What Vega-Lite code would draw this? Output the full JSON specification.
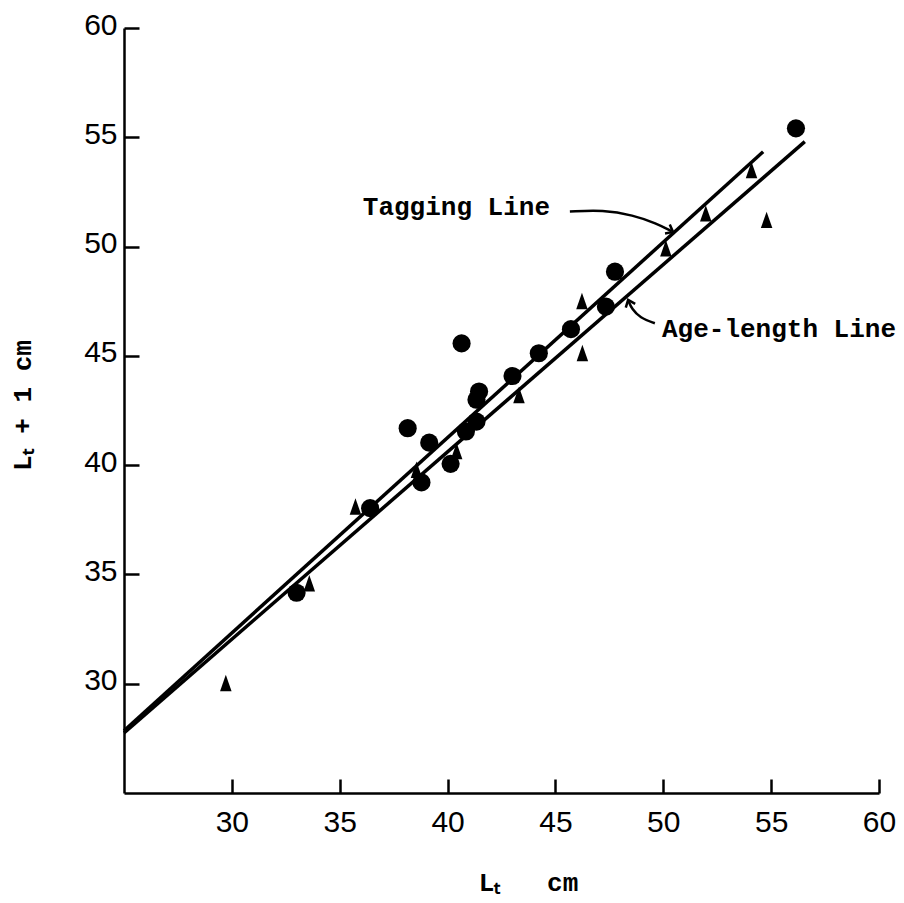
{
  "$schema": "https://vega.github.io/schema/vega-lite/v6.json",
  "width": 755,
  "height": 765,
  "autosize": {"type": "none"},
  "padding": {"left": 124, "top": 28, "right": 25, "bottom": 110},
  "background": "white",
  "config": {
    "view": {"stroke": null},
    "axis": {"grid": false, "domainColor": "black", "domainWidth": 2.5, "tickColor": "black", "tickWidth": 2, "labelColor": "black", "titleColor": "black"}
  },
  "datasets": {
    "lines": [
      {"series": "Tagging Line", "x": 25, "y": 27.85},
      {"series": "Tagging Line", "x": 54.63, "y": 54.34},
      {"series": "Age-length Line", "x": 25, "y": 27.75},
      {"series": "Age-length Line", "x": 56.56, "y": 54.8}
    ],
    "circles": [
      {"x": 33.0, "y": 34.16}, {"x": 36.41, "y": 38.03}, {"x": 38.15, "y": 41.69},
      {"x": 39.15, "y": 41.03}, {"x": 38.79, "y": 39.21}, {"x": 40.14, "y": 40.06},
      {"x": 40.65, "y": 45.57}, {"x": 40.85, "y": 41.54}, {"x": 41.34, "y": 41.99},
      {"x": 41.34, "y": 42.99}, {"x": 41.46, "y": 43.37}, {"x": 43.01, "y": 44.08},
      {"x": 44.23, "y": 45.12}, {"x": 45.72, "y": 46.22}, {"x": 47.34, "y": 47.25},
      {"x": 47.76, "y": 48.85}, {"x": 56.15, "y": 55.41}
    ],
    "triangles": [
      {"x": 29.72, "y": 30.03}, {"x": 33.59, "y": 34.6}, {"x": 35.73, "y": 38.11},
      {"x": 38.56, "y": 39.79}, {"x": 40.42, "y": 40.65}, {"x": 43.31, "y": 43.21},
      {"x": 46.25, "y": 45.13}, {"x": 46.23, "y": 47.51}, {"x": 50.12, "y": 49.92},
      {"x": 51.97, "y": 51.52}, {"x": 54.09, "y": 53.5}, {"x": 54.79, "y": 51.22}
    ],
    "tagArrow": [
      {"x": 45.67, "y": 51.6}, {"x": 47.21, "y": 51.68}, {"x": 48.6, "y": 51.44},
      {"x": 49.69, "y": 51.06}, {"x": 50.38, "y": 50.71}
    ],
    "tagHead": [{"x": 50.45, "y": 50.67}],
    "ageArrow": [
      {"x": 49.61, "y": 46.49}, {"x": 48.92, "y": 46.74}, {"x": 48.54, "y": 47.15}, {"x": 48.39, "y": 47.5}
    ],
    "ageHead": [{"x": 48.37, "y": 47.56}],
    "labels": [
      {"label": "Tagging Line", "x": 36.07, "y": 51.44},
      {"label": "Age-length Line", "x": 49.94, "y": 45.88}
    ]
  },
  "layer": [
    {
      "encoding": {
        "x": {
          "field": "x", "type": "quantitative",
          "scale": {"domain": [25, 60], "nice": false, "zero": false},
          "axis": {
            "orient": "bottom",
            "values": [30, 35, 40, 45, 50, 55, 60], "ticks": false, "labelPadding": 14,
            "labelFont": "Liberation Sans", "labelFontSize": 30, "labelFlush": false, "labelOverlap": false,
            "title": "Lₜ\u00a0\u00a0\u00a0cm", "titleFont": "Liberation Mono", "titleFontSize": 26, "titleFontWeight": "bold",
            "titleX": 404, "titleY": 97, "titleBaseline": "alphabetic", "titleAlign": "center"
          }
        },
        "y": {
          "field": "y", "type": "quantitative",
          "scale": {"domain": [25, 60], "nice": false, "zero": false},
          "axis": {
            "orient": "left",
            "values": [30, 35, 40, 45, 50, 55, 60], "ticks": false, "labelPadding": 7,
            "labelFont": "Liberation Sans", "labelFontSize": 30, "labelFlush": false, "labelOverlap": false,
            "labelOffset": -3,
            "title": "Lₜ + 1 cm", "titleFont": "Liberation Mono", "titleFontSize": 26, "titleFontWeight": "bold",
            "titleX": -102, "titleY": 377, "titleBaseline": "middle", "titleAlign": "center", "titleAngle": -90
          }
        }
      },
      "layer": [
        {
          "data": {"name": "lines"},
          "mark": {"type": "line", "color": "black", "strokeWidth": 3.5},
          "encoding": {"detail": {"field": "series"}}
        },
        {
          "data": {"name": "circles"},
          "mark": {"type": "point", "shape": "circle", "filled": true, "color": "black", "opacity": 1, "size": 330}
        },
        {
          "data": {"name": "triangles"},
          "mark": {"type": "point", "shape": "M0,-1 L0.7,1 L-0.7,1 Z", "filled": true, "color": "black", "opacity": 1, "size": 270}
        },
        {
          "data": {"name": "tagArrow"},
          "mark": {"type": "line", "color": "black", "strokeWidth": 2.5, "interpolate": "basis"},
          "encoding": {}
        },
        {
          "data": {"name": "tagHead"},
          "mark": {"type": "point", "shape": "M-1,-0.8 L0,0 L-1,0.8", "filled": false, "color": "black", "strokeWidth": 2.5, "opacity": 1, "size": 160, "angle": 28}
        },
        {
          "data": {"name": "ageArrow"},
          "mark": {"type": "line", "color": "black", "strokeWidth": 2.5, "interpolate": "basis"},
          "encoding": {}
        },
        {
          "data": {"name": "ageHead"},
          "mark": {"type": "point", "shape": "M-1,-0.8 L0,0 L-1,0.8", "filled": false, "color": "black", "strokeWidth": 2.5, "opacity": 1, "size": 160, "angle": -112}
        },
        {
          "data": {"name": "labels"},
          "mark": {"type": "text", "align": "left", "baseline": "alphabetic", "font": "Liberation Mono", "fontSize": 26, "fontWeight": "bold", "color": "black"},
          "encoding": {"text": {"field": "label"}}
        }
      ]
    },
    {
      "data": {"name": "lines"},
      "mark": {"type": "point", "opacity": 0},
      "encoding": {
        "x": {
          "field": "x", "type": "quantitative",
          "scale": {"domain": [25, 60], "nice": false, "zero": false},
          "axis": {"orient": "bottom", "offset": -14, "values": [30, 35, 40, 45, 50, 55, 60], "domain": false, "labels": false, "ticks": true, "tickSize": 14, "tickWidth": 2.5, "title": null}
        },
        "y": {
          "field": "y", "type": "quantitative",
          "scale": {"domain": [25, 60], "nice": false, "zero": false},
          "axis": {"orient": "left", "offset": -15, "values": [30, 35, 40, 45, 50, 55, 60], "domain": false, "labels": false, "ticks": true, "tickSize": 15, "tickWidth": 2.5, "title": null}
        }
      }
    }
  ],
  "resolve": {"axis": {"x": "independent", "y": "independent"}}
}
